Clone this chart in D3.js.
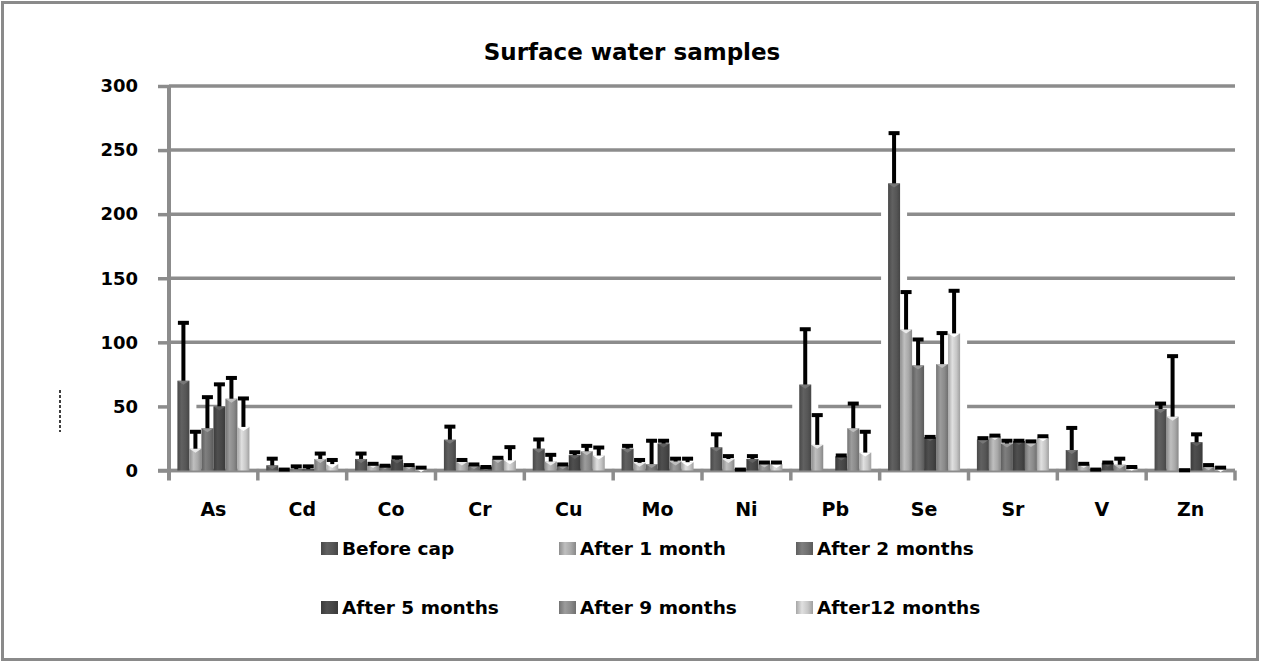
<!DOCTYPE html>
<html>
<head>
<meta charset="utf-8">
<script src="https://cdnjs.cloudflare.com/ajax/libs/d3/7.8.5/d3.min.js"></script>
<style>
  body { margin: 0; background: #fff; }
  svg text { font-family: "DejaVu Sans", sans-serif; font-weight: 700; fill: #000; }
</style>
</head>
<body>
<div id="chart"></div>
<script>
var WIDTH = 1263
var HEIGHT = 665

// data
var categories = ["As", "Cd", "Co", "Cr", "Cu", "Mo", "Ni", "Pb", "Se", "Sr", "V", "Zn"];
var seriesNames = ["Before cap", "After 1 month", "After 2 months", "After 5 months", "After 9 months", "After12 months"];
var seriesColors = ["#565656", "#a9a9a9", "#707070", "#464646", "#8a8a8a", "#c6c6c6"];

var beforeCap = [70, 4, 9, 24, 17, 17, 18, 67, 224, 24, 16, 48];
var after1 = [17, 1, 5, 7, 7, 6, 9, 20, 110, 27, 5, 42];
var after2 = [33, 1, 4, 4, 4, 5, 1, 0, 82, 21, 1, 0.5];
var after5 = [50, 1, 8.5, 3, 12, 21, 9, 11, 26, 23, 6, 22];
var after9 = [56, 9, 4, 9, 15, 7, 5.5, 33, 83, 21.5, 4.5, 3.4];
var after12 = [34, 5, 2, 8, 11.7, 6.5, 5, 14, 107, 26, 3, 2];

// error bar sizes (drawn upward only)
var errBeforeCap = [46, 6, 5, 11, 8, 3, 11, 44, 40, 2, 18, 5];
var errAfter1 = [14, 0.5, 1, 2, 6, 3, 3, 24, 30, 1, 1, 48];
var errAfter2 = [25, 3, 0.5, 1.5, 1.5, 19, 0.5, 0, 21, 3, 0.5, 0.5];
var errAfter5 = [18, 3, 2.5, 0.5, 3, 3, 3, 1.5, 1, 1, 1, 7];
var errAfter9 = [17, 5, 1, 1.7, 5, 3, 1.5, 20, 25, 2, 5.5, 1.6];
var errAfter12 = [23, 4, 1, 11, 7, 3.5, 2, 17, 34, 1.5, 0.5, 1];

var yTicks = [0, 50, 100, 150, 200, 250, 300];

var seriesValues = [beforeCap, after1, after2, after5, after9, after12];
var seriesErrors = [errBeforeCap, errAfter1, errAfter2, errAfter5, errAfter9, errAfter12];

var rows = [];
categories.forEach(function (c, ci) {
    seriesNames.forEach(function (s, si) {
        rows.push({ cat: c, series: s, si: si, value: seriesValues[si][ci], err: seriesErrors[si][ci] });
    });
});

var svg = d3.select('#chart').append('svg')
    .attr('width', WIDTH)
    .attr('height', HEIGHT);

var grid = '#8c8c8c';

// outer frame
svg.append('rect')
    .attr('x', 2.5).attr('y', 2.5)
    .attr('width', 1255).attr('height', 657)
    .attr('fill', '#fff')
    .attr('stroke', '#8a8a8a')
    .attr('stroke-width', 3);

// gradients for the cylinder look
var defs = svg.append('defs');
seriesColors.forEach(function (col, i) {
    var c = d3.color(col);
    var g = defs.append('linearGradient')
        .attr('id', 'grad' + i)
        .attr('x1', '0%').attr('x2', '100%');
    g.append('stop').attr('offset', '0%').attr('stop-color', c.darker(0.5));
    g.append('stop').attr('offset', '35%').attr('stop-color', c.brighter(0.35));
    g.append('stop').attr('offset', '70%').attr('stop-color', c);
    g.append('stop').attr('offset', '100%').attr('stop-color', c.darker(0.6));
});

svg.append('text')
    .attr('x', 632).attr('y', 60)
    .attr('text-anchor', 'middle')
    .style('font-size', '23px')
    .text('Surface water samples');

var x = d3.scaleBand().domain(categories).range([169, 1235]).padding(0);
var xs = d3.scaleBand().domain(seriesNames).range([0, x.bandwidth()]).paddingOuter(0.7).paddingInner(0);
var y = d3.scaleLinear().domain([0, 300]).range([470.5, 86]);

// y axis with labels
var yAxis = svg.append('g')
    .attr('transform', 'translate(169,0)')
    .call(d3.axisLeft(y).tickValues(yTicks).tickSize(11).tickSizeOuter(0).tickPadding(20));
yAxis.select('.domain').remove();
yAxis.selectAll('line').attr('stroke', grid).attr('stroke-width', 3.5);
yAxis.selectAll('text').style('font-size', '18px').attr('font-family', null);

// gridlines
svg.append('g').selectAll('line')
    .data(yTicks)
    .enter().append('line')
    .attr('x1', 169).attr('x2', x.range()[1])
    .attr('y1', function (d) { return y(d); })
    .attr('y2', function (d) { return y(d); })
    .attr('stroke', grid)
    .attr('stroke-width', 3.5);

// white halo behind bars (breaks the gridlines like the original)
svg.append('g').selectAll('rect')
    .data(rows.filter(function (d) { return d.value > 0; }))
    .enter().append('rect')
    .attr('x', function (d) { return x(d.cat) + xs(d.series) - 7; })
    .attr('width', xs.bandwidth() + 14)
    .attr('y', function (d) { return y(d.value); })
    .attr('height', function (d) { return Math.max(0, y(0) - 2 - y(d.value)); })
    .attr('fill', '#fff');

// x axis line + boundary ticks
svg.append('line')
    .attr('x1', 158).attr('x2', x.range()[1])
    .attr('y1', y(0)).attr('y2', y(0))
    .attr('stroke', grid).attr('stroke-width', 3.5);
svg.append('line')
    .attr('x1', 169).attr('x2', 169)
    .attr('y1', y(300) - 1).attr('y2', y(0) + 10)
    .attr('stroke', grid).attr('stroke-width', 4);
svg.append('g').selectAll('line')
    .data(categories.slice(1).concat(['end']))
    .enter().append('line')
    .attr('x1', function (d) { return d === 'end' ? x.range()[1] : x(d); })
    .attr('x2', function (d) { return d === 'end' ? x.range()[1] : x(d); })
    .attr('y1', y(0)).attr('y2', y(0) + 10)
    .attr('stroke', grid).attr('stroke-width', 3.5);

var xAxis = svg.append('g')
    .attr('transform', 'translate(0,' + y(0) + ')')
    .call(d3.axisBottom(x).tickSize(0).tickPadding(32));
xAxis.select('.domain').remove();
xAxis.selectAll('text').style('font-size', '19px').attr('font-family', null);

// bars
var bars = svg.append('g').selectAll('g')
    .data(rows)
    .enter().append('g');

bars.append('rect')
    .attr('x', function (d) { return x(d.cat) + xs(d.series); })
    .attr('width', xs.bandwidth())
    .attr('y', function (d) { return y(d.value); })
    .attr('height', function (d) { return y(0) - y(d.value); })
    .attr('fill', function (d) { return 'url(#grad' + d.si + ')'; });

bars.filter(function (d) { return d.value > 1.5; })
    .append('path')
    .attr('d', function (d) {
        var x0 = x(d.cat) + xs(d.series), w = xs.bandwidth(), t = y(d.value);
        return 'M' + x0 + ',' + t + 'L' + (x0 + w) + ',' + t + 'L' + (x0 + w / 2) + ',' + (t + 4) + 'Z';
    })
    .attr('fill', function (d) { return d3.color(seriesColors[d.si]).brighter(0.9); });

// error bars (none where the value is missing)
var err = svg.append('g').selectAll('g')
    .data(rows.filter(function (d) { return d.err > 0; }))
    .enter().append('g');

err.append('line')
    .attr('x1', function (d) { return x(d.cat) + xs(d.series) + xs.bandwidth() / 2; })
    .attr('x2', function (d) { return x(d.cat) + xs(d.series) + xs.bandwidth() / 2; })
    .attr('y1', function (d) { return y(d.value); })
    .attr('y2', function (d) { return y(d.value + d.err); })
    .attr('stroke', '#000')
    .attr('stroke-width', 4);

err.append('line')
    .attr('x1', function (d) { return x(d.cat) + xs(d.series) + 0.5; })
    .attr('x2', function (d) { return x(d.cat) + xs(d.series) + xs.bandwidth() - 0.5; })
    .attr('y1', function (d) { return y(d.value + d.err) + 1; })
    .attr('y2', function (d) { return y(d.value + d.err) + 1; })
    .attr('stroke', '#000')
    .attr('stroke-width', 4);

// legend: 3 columns, 2 rows
var legendX = [321, 559, 796];
var legendY = [548, 607];
var legend = svg.append('g').selectAll('g')
    .data(seriesNames)
    .enter().append('g')
    .attr('transform', function (d, i) {
        return 'translate(' + legendX[i % 3] + ',' + legendY[Math.floor(i / 3)] + ')';
    });

legend.append('rect')
    .attr('x', 0).attr('y', -6)
    .attr('width', 17).attr('height', 13)
    .attr('fill', function (d, i) { return 'url(#grad' + i + ')'; });

legend.append('text')
    .attr('x', 21).attr('y', 0)
    .attr('dy', '0.36em')
    .style('font-size', '18.5px')
    .text(function (d) { return d; });

// stray marks at the far left of the original
svg.append('line')
    .attr('x1', 60).attr('x2', 60)
    .attr('y1', 390).attr('y2', 432)
    .attr('stroke', '#000').attr('stroke-width', 1.5)
    .attr('stroke-dasharray', '3,2');
</script>
</body>
</html>
